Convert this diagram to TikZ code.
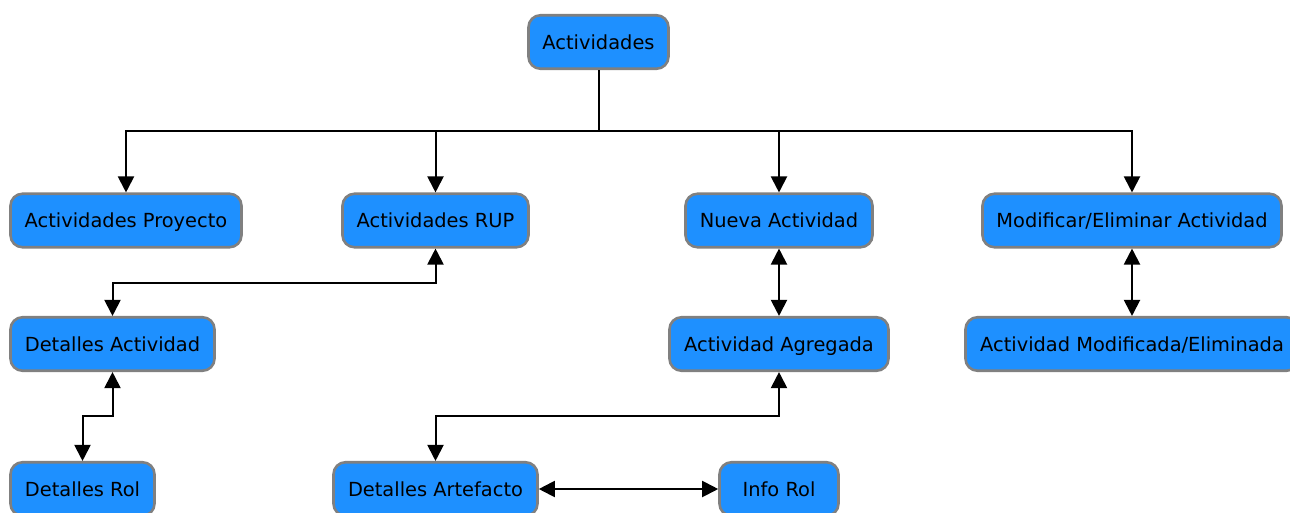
\documentclass[tikz,border=0pt]{standalone}
\usepackage{fontspec}
\setmainfont{DejaVu Sans}
\usetikzlibrary{arrows.meta}
\definecolor{boxfill}{HTML}{1E90FF}
\definecolor{boxedge}{HTML}{808080}
\begin{document}
\begin{tikzpicture}[x=1pt,y=-1pt,
  box/.style={draw=boxedge, line width=2.6pt, fill=boxfill, rounded corners=12pt,
    inner sep=0pt, minimum height=53.5pt, align=center,
    text height=16pt, text depth=2pt,
    font=\fontsize{19.4}{23}\selectfont, text=black},
  conn/.style={line width=2pt, -{Triangle[width=16pt,length=16pt]}},
  biconn/.style={line width=2pt, {Triangle[width=16pt,length=16pt]}-{Triangle[width=16pt,length=16pt]}}
]
\useasboundingbox (0,0) rectangle (1290,512);

% top level
\node[box, minimum width=140pt] (act) at (598.5,42) {Actividades};

% second row
\node[box, minimum width=231pt] (ap)  at (126,220.5)  {Actividades Proyecto};
\node[box, minimum width=186pt] (rup) at (435.5,220.5) {Actividades RUP};
\node[box, minimum width=187pt] (na)  at (779,220.5)  {Nueva Actividad};
\node[box, minimum width=299pt] (me)  at (1132,220.5) {Modificar/Eliminar Actividad};

% third row
\node[box, minimum width=204pt] (da)  at (112.5,344)  {Detalles Actividad};
\node[box, minimum width=219pt] (aa)  at (779,344)    {Actividad Agregada};
\node[box, minimum width=333pt] (am)  at (1132,344)   {Actividad Modificada/Eliminada};

% bottom row
\node[box, minimum width=144pt] (dr)   at (82.5,489)  {Detalles Rol};
\node[box, minimum width=204pt] (dart) at (435.5,489) {Detalles Artefacto};
\node[box, minimum width=119pt] (ir)   at (779,489)   {Info Rol};

% tree from the top node
\draw[conn] (act.south) -- ++(0,61) -| (ap.north);
\draw[conn] (act.south) -- ++(0,61) -| (rup.north);
\draw[conn] (act.south) -- ++(0,61) -| (na.north);
\draw[conn] (act.south) -- ++(0,61) -| (me.north);

% two-way links
\draw[biconn] (rup.south) -- ++(0,34) -| (da.north);
\draw[biconn] (da.south) -- ++(0,44) -| (dr.north);
\draw[biconn] (na.south) -- (aa.north);
\draw[biconn] (me.south) -- (am.north);
\draw[biconn] (aa.south) -- ++(0,44) -| (dart.north);
\draw[biconn] (dart.east) -- (ir.west);
\end{tikzpicture}
\end{document}
